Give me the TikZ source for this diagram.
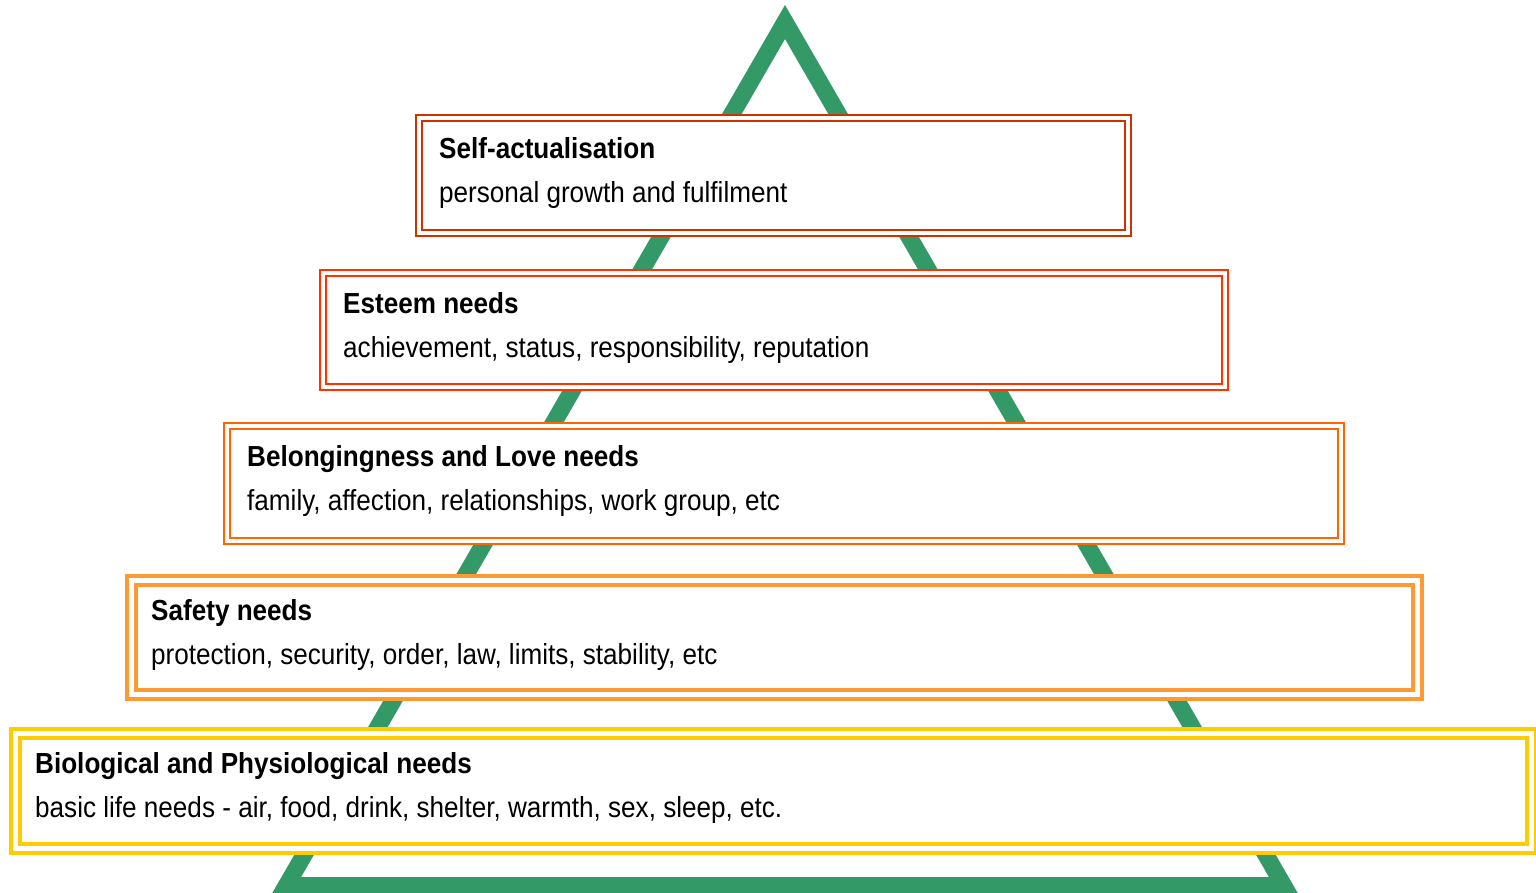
\documentclass[tikz,border=0pt]{standalone}
\usepackage{fontspec}
\setmainfont{Liberation Sans}[FakeStretch=0.9]
\usepackage{tikz}
\definecolor{pyrgreen}{HTML}{339966}
\definecolor{selfred}{HTML}{CC3300}
\definecolor{esteemred}{HTML}{FF3300}
\definecolor{loveorange}{HTML}{FF6600}
\definecolor{safetyorange}{HTML}{FF9933}
\definecolor{bioyellow}{HTML}{FFCC00}

\begin{document}
\begin{tikzpicture}[x=1pt, y=-1pt,
		needbox/.style={draw=#1, line width=2pt, double=white, double distance=4pt, fill=white, inner sep=0pt},
		widebox/.style={needbox=#1, line width=4pt, double distance=5pt},
		needtitle/.style={anchor=base west, inner sep=0pt, font=\fontsize{29}{34}\selectfont\bfseries},
		needtext/.style={anchor=base west, inner sep=0pt, font=\fontsize{29}{34}\selectfont}]
			\useasboundingbox (0,0) rectangle (1536,893);
			% pyramid behind the boxes
			\draw[pyrgreen, line width=17pt, miter limit=10] (785,22) -- (1283.6,885.5) -- (286.4,885.5) -- cycle;
			% levels, top to bottom
			\node[needbox=selfred, minimum width=709pt, minimum height=115pt] (selfbox) at (773.5,175.5) {};
			\node[needbox=esteemred, minimum width=902pt, minimum height=114pt] (esteembox) at (774,330) {};
			\node[needbox=loveorange, minimum width=1114pt, minimum height=115pt] (lovebox) at (784,483.5) {};
			\node[widebox=safetyorange, minimum width=1286pt, minimum height=114.5pt] (safetybox) at (774.5,637.25) {};
			\node[widebox=bioyellow, minimum width=1515.5pt, minimum height=115pt] (biobox) at (773.25,791) {};
			% texts
			\node[needtitle] (selftitle) at (439,159) {Self-actualisation};
			\node[needtext] (selftext) at (439,203) {personal growth and fulfilment};
			\node[needtitle] (esteemtitle) at (343,313) {Esteem needs};
			\node[needtext] (esteemtext) at (343,357) {achievement, status, responsibility, reputation};
			\node[needtitle] (lovetitle) at (247,466) {Belongingness and Love needs};
			\node[needtext] (lovetext) at (247,510) {family, affection, relationships, work group, etc};
			\node[needtitle] (safetytitle) at (151,620) {Safety needs};
			\node[needtext] (safetytext) at (151,664) {protection, security, order, law, limits, stability, etc};
			\node[needtitle] (biotitle) at (35,773) {Biological and Physiological needs};
			\node[needtext] (biotext) at (35,817) {basic life needs - air, food, drink, shelter, warmth, sex, sleep, etc.};
		\end{tikzpicture}
\end{document}
